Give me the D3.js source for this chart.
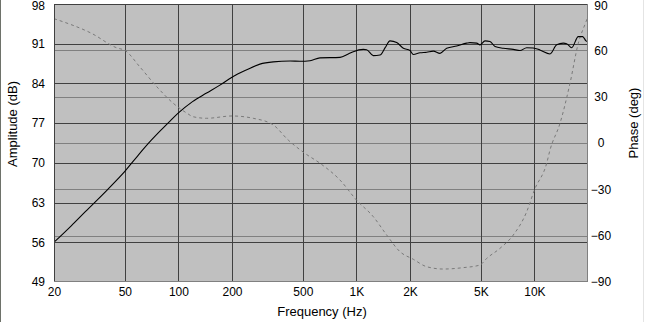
<!DOCTYPE html>
<html>
<head>
<meta charset="utf-8">
<script src="https://cdn.jsdelivr.net/npm/d3@7"></script>
<style>
  html, body { margin: 0; padding: 0; background: #ffffff; }
  svg { display: block; }
  text { font-family: "Liberation Sans", Arial, sans-serif; fill: #000; }
</style>
</head>
<body>
<svg id="chart" width="647" height="322"></svg>
<script>
// Loudspeaker frequency response: amplitude (dB) and phase (deg) vs frequency (Hz)
const ampFreq = [20, 25, 30, 40, 50, 60, 70, 80, 90, 100, 120, 144, 171, 200, 242, 287, 341, 424, 482, 549, 624, 809, 900, 960, 1094, 1142, 1244, 1357, 1450, 1544, 1684, 1835, 2000, 2088, 2276, 2482, 2704, 2948, 3214, 3659, 4164, 4346, 4740, 4945, 5278, 5629, 6006, 6687, 7606, 8300, 9050, 9856, 10740, 12236, 13340, 14530, 15180, 16190, 17640, 18670, 19490, 20000];
const ampDb = [56.0, 58.9, 61.4, 65.3, 68.5, 71.5, 73.9, 75.8, 77.4, 78.8, 80.8, 82.3, 83.7, 85.1, 86.4, 87.4, 87.8, 87.95, 87.9, 88.0, 88.5, 88.6, 89.2, 89.6, 90.0, 89.95, 88.9, 89.0, 90.3, 91.5, 91.2, 90.2, 89.8, 89.1, 89.4, 89.5, 89.7, 89.3, 90.2, 90.6, 91.1, 91.2, 91.1, 90.8, 91.5, 91.4, 90.5, 90.2, 90.0, 89.8, 90.3, 90.25, 89.9, 89.2, 90.8, 91.1, 91.0, 90.3, 92.25, 92.25, 91.5, 91.3];

const phaseFreq = [20, 32.5, 45.3, 50, 60.6, 75.5, 93.6, 112, 121, 144, 200, 263, 341, 414, 514, 624, 809, 1000, 1244, 1480, 1758, 2088, 2482, 3076, 3986, 4945, 5396, 6406, 7606, 9050, 10000, 11720, 12236, 13930, 15850, 17640, 19490, 20000];
const phaseDeg = [80.5, 71.0, 61.5, 60.0, 49.4, 36.5, 25.7, 19.2, 17.0, 16.0, 17.5, 16.0, 11.7, 1.9, -6.7, -13.1, -24.0, -36.9, -47.7, -59.6, -70.4, -75.3, -80.1, -81.6, -80.7, -79.0, -74.7, -68.2, -59.6, -44.5, -30.4, -13.1, -4.5, 12.8, 38.7, 64.6, 78.5, 82.0];

const freqTicks = [20, 50, 100, 200, 500, 1000, 2000, 5000, 10000];
const freqTickLabels = ["20", "50", "100", "200", "500", "1K", "2K", "5K", "10K"];
const ampTicks = [49, 56, 63, 70, 77, 84, 91, 98];
const phaseTicks = [-90, -60, -30, 0, 30, 60, 90];

const svg = d3.select("#chart");
const W = 647, H = 322;
const pLeft = 54, pRight = 588, pTop = 4, pBottom = 282;

const x = d3.scaleLog().domain([20, 20000]).range([pLeft, pRight]);
const yAmp = d3.scaleLinear().domain([49, 98]).range([pBottom, pTop]);
const yPh = d3.scaleLinear().domain([-90, 90]).range([pBottom, pTop]);
const px = v => Math.round(v) + 0.5;

// window edges
svg.append("line").attr("x1", 0.5).attr("x2", 0.5).attr("y1", 0).attr("y2", H)
  .attr("stroke", "#6e726a").attr("stroke-width", 1);
svg.append("line").attr("x1", 643.5).attr("x2", 643.5).attr("y1", 0).attr("y2", H)
  .attr("stroke", "#e4e4e4").attr("stroke-width", 1);

// plot background
svg.append("rect").attr("x", pLeft).attr("y", pTop)
  .attr("width", pRight - pLeft).attr("height", pBottom - pTop)
  .attr("fill", "#c0c0c0");

const grid = svg.append("g").attr("shape-rendering", "crispEdges");

// phase gridlines (lighter)
grid.selectAll("line.ph").data(phaseTicks.filter(d => d > -90 && d < 90)).join("line")
  .attr("class", "ph")
  .attr("x1", pLeft).attr("x2", pRight)
  .attr("y1", d => px(yPh(d))).attr("y2", d => px(yPh(d)))
  .attr("stroke", "#808080");

// amplitude gridlines (dark)
grid.selectAll("line.amp").data(ampTicks.filter(d => d > 49 && d < 98)).join("line")
  .attr("class", "amp")
  .attr("x1", pLeft).attr("x2", pRight)
  .attr("y1", d => px(yAmp(d))).attr("y2", d => px(yAmp(d)))
  .attr("stroke", "#404040");

// frequency gridlines
grid.selectAll("line.fq").data(freqTicks.filter(d => d > 20)).join("line")
  .attr("class", "fq")
  .attr("x1", d => px(x(d))).attr("x2", d => px(x(d)))
  .attr("y1", pTop).attr("y2", pBottom)
  .attr("stroke", "#404040");

// clip for curves
svg.append("clipPath").attr("id", "plotClip").append("rect")
  .attr("x", pLeft).attr("y", pTop).attr("width", pRight - pLeft).attr("height", pBottom - pTop);

const phaseLine = d3.line()
  .x((d, i) => x(phaseFreq[i]))
  .y(d => yPh(d))
  .curve(d3.curveMonotoneX);
svg.append("path").datum(phaseDeg)
  .attr("clip-path", "url(#plotClip)")
  .attr("d", phaseLine)
  .attr("fill", "none")
  .attr("stroke", "#7a7a7a")
  .attr("stroke-width", 1)
  .attr("stroke-dasharray", "3,3");

const ampLine = d3.line()
  .x((d, i) => x(ampFreq[i]))
  .y(d => yAmp(d))
  .curve(d3.curveMonotoneX);
svg.append("path").datum(ampDb)
  .attr("clip-path", "url(#plotClip)")
  .attr("d", ampLine)
  .attr("fill", "none")
  .attr("stroke", "#000")
  .attr("stroke-width", 1.1);

// plot frame: dark top/left, light bottom/right
const frame = svg.append("g").attr("shape-rendering", "crispEdges");
frame.append("line").attr("x1", pLeft).attr("x2", pRight).attr("y1", pTop + 0.5).attr("y2", pTop + 0.5).attr("stroke", "#404040");
frame.append("line").attr("x1", pLeft + 0.5).attr("x2", pLeft + 0.5).attr("y1", pTop).attr("y2", pBottom).attr("stroke", "#404040");
frame.append("line").attr("x1", pLeft).attr("x2", pRight).attr("y1", pBottom - 0.5).attr("y2", pBottom - 0.5).attr("stroke", "#808080");
frame.append("line").attr("x1", pRight - 0.5).attr("x2", pRight - 0.5).attr("y1", pTop).attr("y2", pBottom).attr("stroke", "#808080");

// axes
const axisFont = 12;
const ampAxis = d3.axisLeft(yAmp).tickValues(ampTicks).tickSize(0).tickPadding(9);
const gA = svg.append("g").attr("transform", `translate(${pLeft},0)`).call(ampAxis);
const phAxis = d3.axisRight(yPh).tickValues(phaseTicks).tickSize(0).tickPadding(0);
const gP = svg.append("g").attr("transform", `translate(601,0)`).call(phAxis);
gP.selectAll("text").attr("text-anchor", "middle");
const fAxis = d3.axisBottom(x).tickValues(freqTicks).tickFormat((d, i) => freqTickLabels[i]).tickSize(0).tickPadding(5);
const gF = svg.append("g").attr("transform", `translate(0,${pBottom})`).call(fAxis);

[gA, gP, gF].forEach(g => {
  g.select(".domain").remove();
  g.selectAll("text").attr("font-size", axisFont).attr("font-family", "Liberation Sans, Arial, sans-serif").attr("fill", "#000");
});
// keep the topmost labels inside the window
gA.selectAll(".tick").filter(d => d === 98).select("text").attr("dy", "0.32em").attr("y", 2);
gP.selectAll(".tick").filter(d => d === 90).select("text").attr("dy", "0.32em").attr("y", 2);

// axis titles
svg.append("text").attr("transform", "translate(17,124) rotate(-90)")
  .attr("text-anchor", "middle").attr("font-size", 13).text("Amplitude (dB)");
svg.append("text").attr("transform", "translate(638,123) rotate(-90)")
  .attr("text-anchor", "middle").attr("font-size", 13).text("Phase (deg)");
svg.append("text").attr("x", 322).attr("y", 316)
  .attr("text-anchor", "middle").attr("font-size", 13).text("Frequency (Hz)");
</script>
</body>
</html>
